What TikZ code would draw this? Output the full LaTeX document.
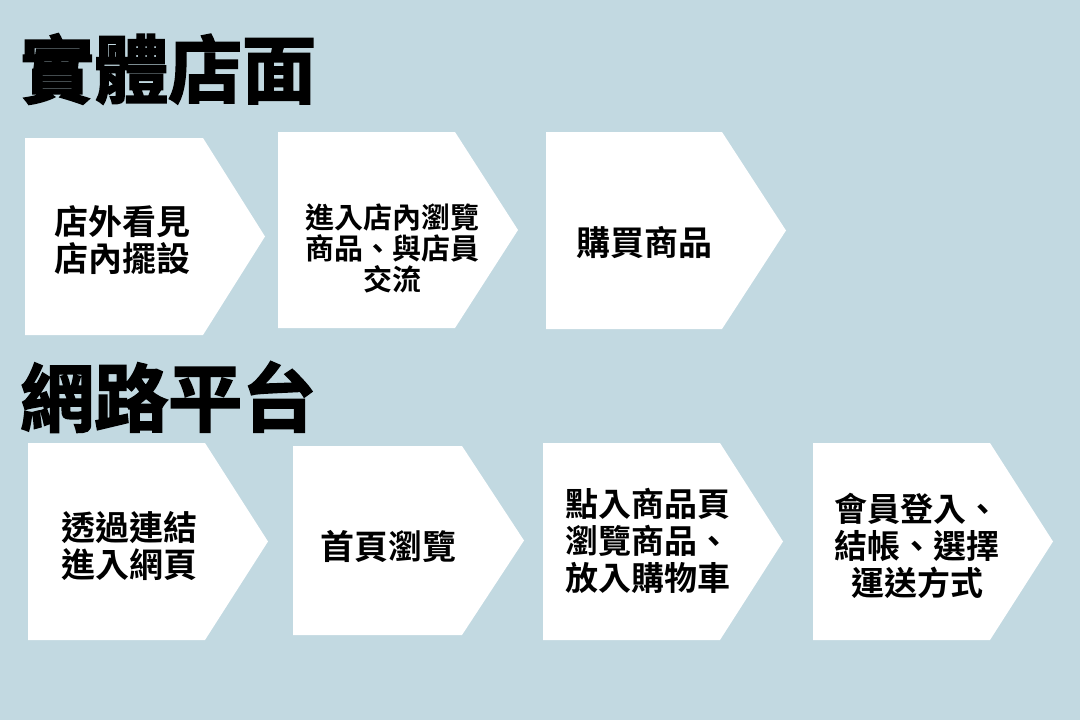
\documentclass[tikz,border=0pt]{standalone}
\usepackage{fontspec}
\newfontfamily\cjk{Noto Sans CJK TC Bold}
\newfontfamily\cjktitle{Noto Sans CJK TC Bold}[FakeBold=2.5]
\definecolor{bg}{RGB}{194,217,225}
\tikzset{
  chev/.style={fill=white,draw=none},
  title/.style={anchor=west,inner sep=0pt,font=\cjktitle\fontsize{74}{80}\selectfont},
  lbl/.style={inner sep=0pt,align=center,font=\cjk\fontsize{34}{37}\selectfont},
  lblsmall/.style={inner sep=0pt,align=center,font=\cjk\fontsize{29}{31}\selectfont},
}
\newcommand\mychev[6]{% name, left, top, bottom, rect right, tip
  \path[chev] (#2,#3) -- (#5,#3) -- (#6,{(#3+#4)/2}) -- (#5,#4) -- (#2,#4) -- cycle;
  \coordinate (#1) at ({(#2+#6)/2},{(#3+#4)/2});
}
\begin{document}
\begin{tikzpicture}[x=1pt,y=-1pt]
\fill[bg] (0,0) rectangle (1080,720);
\useasboundingbox (0,0) rectangle (1080,720);

\node[title] (t1) at (20,69) {實體店面};
\node[title] (t2) at (20,397) {網路平台};

% row 1
\mychev{a1}{25}{138}{335}{203}{265}
\mychev{a2}{278}{132}{328}{455}{518}
\mychev{a3}{546}{132}{329}{722}{786}
% row 2
\mychev{b1}{28}{443}{640}{205}{268}
\mychev{b2}{293}{446}{635}{462}{524}
\mychev{b3}{543}{443}{640}{720}{783}
\mychev{b4}{813}{443}{640}{990}{1053}

\node[lbl] (la1) at (122,240) {店外看見\\店內擺設};
\node[lblsmall] (la2) at (392,248) {進入店內瀏覽\\商品、與店員\\交流};
\node[lbl] (la3) at (644,243) {購買商品};

\node[lbl] (lb1) at (129,546) {透過連結\\進入網頁};
\node[lbl] (lb2) at (388,546) {首頁瀏覽};
\node[lbl,font=\cjk\fontsize{33}{37}\selectfont] (lb3) at (648,541) {點入商品頁\\瀏覽商品、\\放入購物車};
\node[lbl,font=\cjk\fontsize{33}{37}\selectfont] (lb4) at (917,546) {會員登入、\\結帳、選擇\\運送方式};
\end{tikzpicture}
\end{document}
